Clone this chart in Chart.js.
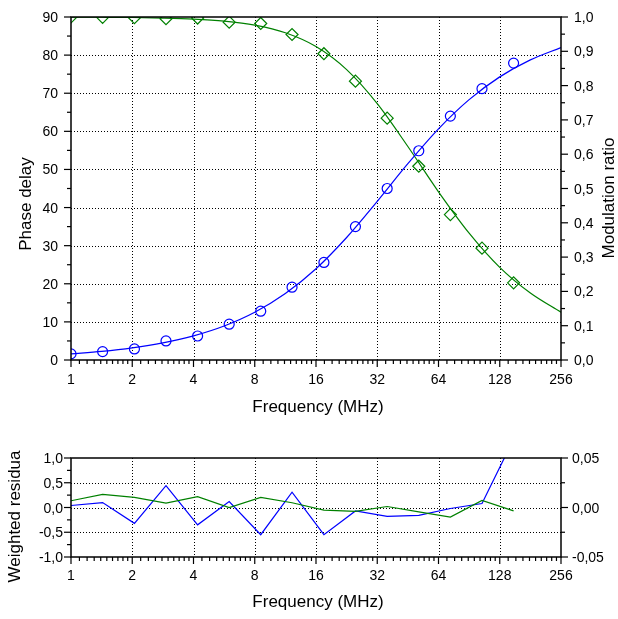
<!DOCTYPE html>
<html>
<head>
<meta charset="utf-8">
<script src="https://cdn.jsdelivr.net/npm/chart.js@4.4.1/dist/chart.umd.min.js"></script>
<style>
  html, body { margin: 0; padding: 0; background: #fff; }
  #wrap { position: relative; width: 618px; height: 619px; }
  canvas { position: absolute; left: 0; }
  #top { top: 0; }
  #bot { top: 430px; }
</style>
</head>
<body>
<div id="wrap">
  <canvas id="top" width="618" height="430"></canvas>
  <canvas id="bot" width="618" height="189"></canvas>
</div>
<script>
// ---------------- data ----------------
const freq = [1, 1.43, 2.05, 2.93, 4.19, 5.99, 8.56, 12.2, 17.5, 25.0, 35.8, 51.2, 73.2, 104.7, 149.7];
const phaseDelay = [1.6, 2.2, 2.9, 5.0, 6.3, 9.4, 12.8, 19.1, 25.6, 35.0, 45.0, 54.9, 64.0, 71.2, 77.9];
const modRatio = [1.0, 0.999, 0.998, 0.995, 0.997, 0.985, 0.981, 0.949, 0.893, 0.813, 0.705, 0.565, 0.424, 0.326, 0.225];

const fitFreq = [1, 1.414, 2, 2.828, 4, 5.657, 8, 11.31, 16, 22.63, 32, 45.25, 64, 90.51, 128, 181, 256];
const phaseFit = [1.59, 2.25, 3.18, 4.49, 6.34, 8.93, 12.53, 17.45, 23.96, 32.15, 41.63, 51.50, 60.64, 68.31, 74.29, 78.75, 81.99];
const modFit = [0.9996, 0.9992, 0.9985, 0.9969, 0.9939, 0.9879, 0.9762, 0.9540, 0.9138, 0.8466, 0.7474, 0.6225, 0.4903, 0.3698, 0.2700, 0.1951, 0.1392];

const phaseResid = [0.04, 0.10, -0.32, 0.44, -0.35, 0.12, -0.55, 0.31, -0.55, -0.07, -0.18, -0.16, -0.02, 0.08, 1.38];
const modResid = [0.0068, 0.0133, 0.0102, 0.0044, 0.0109, 0.0, 0.0102, 0.0048, -0.0027, -0.0040, 0.0010, -0.0044, -0.0096, 0.0072, -0.0034];

// tick values and labels
const xTicks = [1, 2, 4, 8, 16, 32, 64, 128, 256];
const xTickLabels = ['1', '2', '4', '8', '16', '32', '64', '128', '256'];
const phaseTicks = [0, 10, 20, 30, 40, 50, 60, 70, 80, 90];
const phaseTickLabels = ['0', '10', '20', '30', '40', '50', '60', '70', '80', '90'];
const modTicks = [0, 0.1, 0.2, 0.3, 0.4, 0.5, 0.6, 0.7, 0.8, 0.9, 1.0];
const modTickLabels = ['0,0', '0,1', '0,2', '0,3', '0,4', '0,5', '0,6', '0,7', '0,8', '0,9', '1,0'];
const residTicks = [-1, -0.5, 0, 0.5, 1];
const residTickLabels = ['-1,0', '-0,5', '0,0', '0,5', '1,0'];
const residRTicks = [-0.05, 0, 0.05];
const residRTickLabels = ['-0,05', '0,00', '0,05'];

// ---------------- styling ----------------
const BLUE = 'rgb(0,0,255)';
const GREEN = 'rgb(0,128,0)';
const FONT = '"Liberation Sans", Arial, Helvetica, sans-serif';
const TICK_FONT = '14px ' + FONT;
const TITLE_FONT = '17px ' + FONT;

function minorBetween(ticks) {
  const out = [];
  for (let i = 0; i < ticks.length - 1; i++) out.push((ticks[i] + ticks[i + 1]) / 2);
  return out;
}
function xMinorTicks() {
  const out = [];
  for (let i = 0; i < xTicks.length - 1; i++) {
    for (let k = 1; k <= 9; k++) out.push(xTicks[i] * (1 + k / 10));
  }
  return out;
}
function pts(xs, ys) { return xs.map((x, i) => ({ x: x, y: ys[i] })); }

const decorPlugin = {
  id: 'decor',
  beforeDatasetsDraw(chart) {
    const spec = chart.options.plugins.decor;
    const { ctx, chartArea: a, scales } = chart;
    ctx.save();
    ctx.strokeStyle = '#000';
    ctx.lineWidth = 1;
    ctx.setLineDash([1, 2]);
    xTicks.slice(1, -1).forEach(v => {
      const px = Math.round(scales.x.getPixelForValue(v)) + 0.5;
      ctx.beginPath(); ctx.moveTo(px, a.top); ctx.lineTo(px, a.bottom); ctx.stroke();
    });
    spec.left.ticks.slice(1, -1).forEach(v => {
      const py = Math.round(scales.yL.getPixelForValue(v)) + 0.5;
      ctx.beginPath(); ctx.moveTo(a.left, py); ctx.lineTo(a.right, py); ctx.stroke();
    });
    ctx.restore();
  },
  afterDraw(chart) {
    const spec = chart.options.plugins.decor;
    const { ctx, chartArea: a, scales } = chart;
    ctx.save();
    ctx.setLineDash([]);
    ctx.strokeStyle = '#000';
    // frame
    ctx.lineWidth = 1.5;
    ctx.strokeRect(a.left, a.top, a.right - a.left, a.bottom - a.top);
    // tick marks
    ctx.lineWidth = 1.2;
    const MAJ = 7, MIN = 4;
    xTicks.forEach(v => {
      const px = scales.x.getPixelForValue(v);
      ctx.beginPath(); ctx.moveTo(px, a.bottom); ctx.lineTo(px, a.bottom + MAJ); ctx.stroke();
    });
    xMinorTicks().forEach(v => {
      const px = scales.x.getPixelForValue(v);
      ctx.beginPath(); ctx.moveTo(px, a.bottom); ctx.lineTo(px, a.bottom + MIN); ctx.stroke();
    });
    const sides = [['left', scales.yL, -1, a.left], ['right', scales.yR, 1, a.right]];
    sides.forEach(([side, sc, dir, x0]) => {
      const s = spec[side];
      s.ticks.forEach(v => {
        const py = sc.getPixelForValue(v);
        ctx.beginPath(); ctx.moveTo(x0, py); ctx.lineTo(x0 + dir * MAJ, py); ctx.stroke();
      });
      minorBetween(s.ticks).forEach(v => {
        const py = sc.getPixelForValue(v);
        ctx.beginPath(); ctx.moveTo(x0, py); ctx.lineTo(x0 + dir * MIN, py); ctx.stroke();
      });
    });
    // tick labels
    ctx.fillStyle = '#000';
    ctx.font = TICK_FONT;
    ctx.textBaseline = 'alphabetic';
    ctx.textAlign = 'center';
    xTicks.forEach((v, i) => {
      ctx.fillText(xTickLabels[i], scales.x.getPixelForValue(v), a.bottom + spec.xLabelOffset);
    });
    ctx.textAlign = 'right';
    spec.left.ticks.forEach((v, i) => {
      ctx.fillText(spec.left.labels[i], a.left - spec.left.pad, scales.yL.getPixelForValue(v) + 5);
    });
    ctx.textAlign = 'left';
    spec.right.ticks.forEach((v, i) => {
      ctx.fillText(spec.right.labels[i], a.right + spec.right.pad, scales.yR.getPixelForValue(v) + 5);
    });
    // axis titles
    ctx.font = TITLE_FONT;
    ctx.textAlign = 'center';
    ctx.fillText(spec.titles.bottom.text, (a.left + a.right) / 2 + 2, spec.titles.bottom.y);
    [spec.titles.left, spec.titles.right].forEach(t => {
      if (!t) return;
      ctx.save();
      ctx.translate(t.x, t.y);
      ctx.rotate(-Math.PI / 2);
      ctx.fillText(t.text, 0, 0);
      ctx.restore();
    });
    ctx.restore();
  }
};

function hiddenScale(extra, fit) {
  return Object.assign({
    ticks: { display: false },
    grid: { display: false },
    border: { display: false },
    afterFit: fit
  }, extra);
}

// ---------------- top chart ----------------
new Chart(document.getElementById('top'), {
  type: 'line',
  data: {
    datasets: [
      { label: 'Phase fit', data: pts(fitFreq, phaseFit), yAxisID: 'yL', borderColor: BLUE, borderWidth: 1.2,
        pointRadius: 0, cubicInterpolationMode: 'monotone', fill: false, clip: 0 },
      { label: 'Modulation fit', data: pts(fitFreq, modFit), yAxisID: 'yR', borderColor: GREEN, borderWidth: 1.2,
        pointRadius: 0, cubicInterpolationMode: 'monotone', fill: false, clip: 0 },
      { label: 'Phase delay', data: pts(freq, phaseDelay), yAxisID: 'yL', showLine: false, borderColor: BLUE, clip: 0,
        pointStyle: 'circle', pointRadius: 5, pointBorderColor: BLUE, pointBackgroundColor: 'rgba(0,0,0,0)', pointBorderWidth: 1.2 },
      { label: 'Modulation ratio', data: pts(freq, modRatio), yAxisID: 'yR', showLine: false, borderColor: GREEN, clip: 0,
        pointStyle: 'rectRot', pointRadius: 6, pointBorderColor: GREEN, pointBackgroundColor: 'rgba(0,0,0,0)', pointBorderWidth: 1.2 }
    ]
  },
  options: {
    responsive: false, animation: false, devicePixelRatio: 1, events: [],
    layout: { padding: { top: 17, left: 0, right: 0, bottom: 0 } },
    plugins: {
      legend: { display: false }, tooltip: { enabled: false },
      decor: {
        left: { ticks: phaseTicks, labels: phaseTickLabels, pad: 13 },
        right: { ticks: modTicks, labels: modTickLabels, pad: 13 },
        xLabelOffset: 24,
        titles: {
          bottom: { text: 'Frequency (MHz)', y: 412 },
          left: { text: 'Phase delay', x: 30.5, y: 204 },
          right: { text: 'Modulation ratio', x: 613.5, y: 198 }
        }
      }
    },
    scales: {
      x: hiddenScale({ type: 'logarithmic', min: 1, max: 256 }, s => { s.height = 70; }),
      yL: hiddenScale({ type: 'linear', position: 'left', min: 0, max: 90 }, s => { s.width = 71; }),
      yR: hiddenScale({ type: 'linear', position: 'right', min: 0, max: 1 }, s => { s.width = 57; })
    }
  },
  plugins: [decorPlugin]
});

// ---------------- bottom chart ----------------
new Chart(document.getElementById('bot'), {
  type: 'line',
  data: {
    datasets: [
      { label: 'Modulation residua', data: pts(freq, modResid), yAxisID: 'yR', borderColor: GREEN, borderWidth: 1.2,
        pointRadius: 0, tension: 0, fill: false, clip: 0 },
      { label: 'Phase residua', data: pts(freq, phaseResid), yAxisID: 'yL', borderColor: BLUE, borderWidth: 1.2,
        pointRadius: 0, tension: 0, fill: false, clip: 0 }
    ]
  },
  options: {
    responsive: false, animation: false, devicePixelRatio: 1, events: [],
    layout: { padding: { top: 28, left: 0, right: 0, bottom: 0 } },
    plugins: {
      legend: { display: false }, tooltip: { enabled: false },
      decor: {
        left: { ticks: residTicks, labels: residTickLabels, pad: 8 },
        right: { ticks: residRTicks, labels: residRTickLabels, pad: 11 },
        xLabelOffset: 23,
        titles: {
          bottom: { text: 'Frequency (MHz)', y: 176.5 },
          left: { text: 'Weighted residua', x: 19.5, y: 86.5 }
        }
      }
    },
    scales: {
      x: hiddenScale({ type: 'logarithmic', min: 1, max: 256 }, s => { s.height = 62; }),
      yL: hiddenScale({ type: 'linear', position: 'left', min: -1, max: 1 }, s => { s.width = 71; }),
      yR: hiddenScale({ type: 'linear', position: 'right', min: -0.05, max: 0.05 }, s => { s.width = 57; })
    }
  },
  plugins: [decorPlugin]
});
</script>
</body>
</html>
